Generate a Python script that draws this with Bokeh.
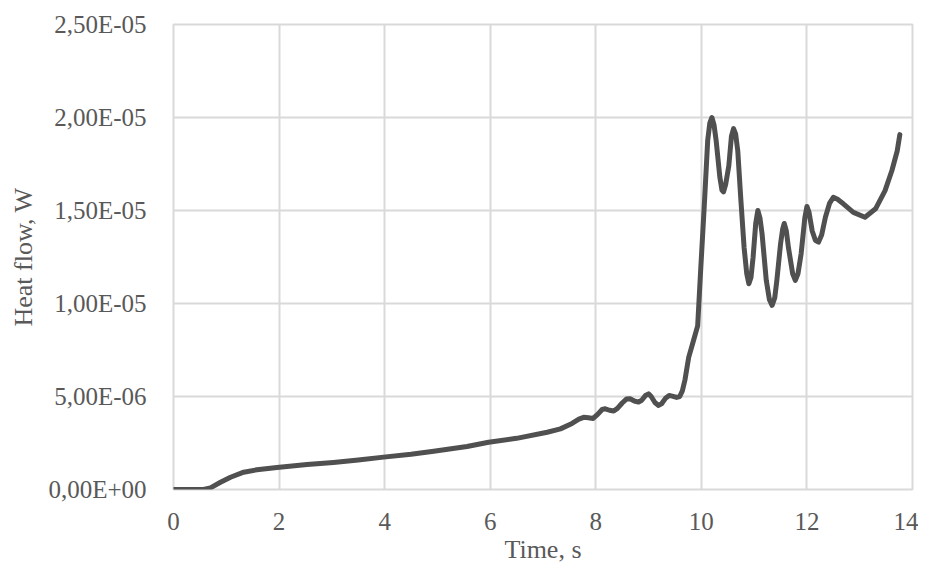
from bokeh.plotting import figure
from bokeh.embed import file_html
from bokeh.resources import INLINE
from bokeh.models import FixedTicker, CustomJSTickFormatter, Range1d

# Time, s
time_s = [0.0, 0.3, 0.57, 0.7, 0.89, 1.08, 1.33, 1.58, 1.96, 2.53, 3.03, 3.5, 3.98, 4.5, 4.93, 5.56, 5.97,
          6.5, 7.08, 7.33, 7.55, 7.68, 7.77, 7.86, 7.95, 8.04, 8.12, 8.18, 8.26, 8.34, 8.41, 8.5, 8.58,
          8.65, 8.73, 8.81, 8.87, 8.94, 9.0, 9.05, 9.12, 9.19, 9.25, 9.32, 9.39, 9.45, 9.53, 9.59, 9.64,
          9.69, 9.76, 9.85, 9.93, 9.99, 10.06, 10.12, 10.16, 10.2, 10.24, 10.28, 10.35, 10.39, 10.42,
          10.46, 10.52, 10.57, 10.61, 10.65, 10.69, 10.75, 10.81, 10.86, 10.9, 10.94, 10.98, 11.03,
          11.07, 11.11, 11.15, 11.23, 11.29, 11.34, 11.39, 11.43, 11.5, 11.54, 11.57, 11.61, 11.65,
          11.73, 11.78, 11.83, 11.89, 11.96, 12.0, 12.04, 12.1, 12.16, 12.22, 12.28, 12.35, 12.43,
          12.5, 12.58, 12.69, 12.88, 13.1, 13.3, 13.48, 13.61, 13.71, 13.76]
# Heat flow, W (x 1e-6)
heat_flow_e6 = [0.0, 0.0, 0.0, 0.09, 0.39, 0.66, 0.93, 1.06, 1.18, 1.34, 1.45, 1.58, 1.74, 1.9, 2.06, 2.31, 2.54,
                2.75, 3.08, 3.26, 3.55, 3.78, 3.88, 3.86, 3.82, 4.05, 4.3, 4.34, 4.26, 4.22, 4.36, 4.65, 4.86,
                4.88, 4.76, 4.7, 4.8, 5.05, 5.14, 5.0, 4.68, 4.52, 4.62, 4.9, 5.05, 5.02, 4.95, 5.0, 5.3,
                5.9, 7.1, 8.0, 8.8, 11.95, 15.5, 18.76, 19.7, 20.0, 19.6, 18.76, 16.8, 16.1, 16.0,
                16.4, 17.4, 19.0, 19.4, 19.1, 18.2, 15.5, 13.0, 11.6, 11.06, 11.4, 12.49, 14.3,
                15.0, 14.6, 13.75, 11.24, 10.2, 9.9, 10.3, 11.24, 13.2, 14.0, 14.3, 13.9, 13.0,
                11.6, 11.24, 11.6, 12.67, 14.6, 15.22, 14.9, 13.9, 13.4, 13.3, 13.7, 14.64, 15.4,
                15.71, 15.6, 15.36, 14.9, 14.64, 15.09, 16.07, 17.15, 18.2, 19.08]
heat_flow = [v * 1e-6 for v in heat_flow_e6]

x_ticks = [0, 2, 4, 6, 8, 10, 12, 14]
y_ticks = [0.0, 5e-6, 1e-5, 1.5e-5, 2e-5, 2.5e-5]
y_tick_labels = ["0,00E+00", "5,00E-06", "1,00E-05", "1,50E-05", "2,00E-05", "2,50E-05"]

FONT = "Liberation Serif"
TEXT = "#595959"
GRID = "#d9d9d9"

p = figure(width=918, height=566, output_backend="svg", toolbar_location=None,
           x_range=Range1d(0, 14), y_range=Range1d(0, 2.5e-5))
p.min_border_left = 173
p.min_border_right = 6
p.min_border_top = 24
p.min_border_bottom = 77
p.outline_line_color = GRID
p.outline_line_width = 2
p.background_fill_color = "white"
p.border_fill_color = "white"

p.line(time_s, heat_flow, line_color="#505050", line_width=5, line_join="round", line_cap="round")

p.xaxis.ticker = FixedTicker(ticks=x_ticks)
p.yaxis.ticker = FixedTicker(ticks=y_ticks)
p.yaxis.formatter = CustomJSTickFormatter(args=dict(vals=y_ticks, labs=y_tick_labels), code="""
let best = 0;
for (let i = 1; i < vals.length; i++) {
  if (Math.abs(vals[i] - tick) < Math.abs(vals[best] - tick)) best = i;
}
return labs[best];
""")

for ax in (p.xaxis[0], p.yaxis[0]):
    ax.axis_line_color = None
    ax.major_tick_line_color = None
    ax.minor_tick_line_color = None
    ax.major_label_text_font = FONT
    ax.major_label_text_font_size = "25px"
    ax.major_label_text_color = TEXT
    ax.axis_label_text_font = FONT
    ax.axis_label_text_font_size = "26px"
    ax.axis_label_text_font_style = "normal"
    ax.axis_label_text_color = TEXT

p.xaxis.axis_label = "Time, s"
p.yaxis.axis_label = "Heat flow, W"
p.xaxis.major_label_standoff = 17
p.yaxis.major_label_standoff = 21
p.xaxis.axis_label_standoff = 2
p.yaxis.axis_label_standoff = 7

p.xgrid.ticker = FixedTicker(ticks=x_ticks)
p.ygrid.ticker = FixedTicker(ticks=y_ticks)
for g in (p.xgrid[0], p.ygrid[0]):
    g.grid_line_color = GRID
    g.grid_line_width = 2

open("out.html", "w").write(file_html(p, INLINE))
